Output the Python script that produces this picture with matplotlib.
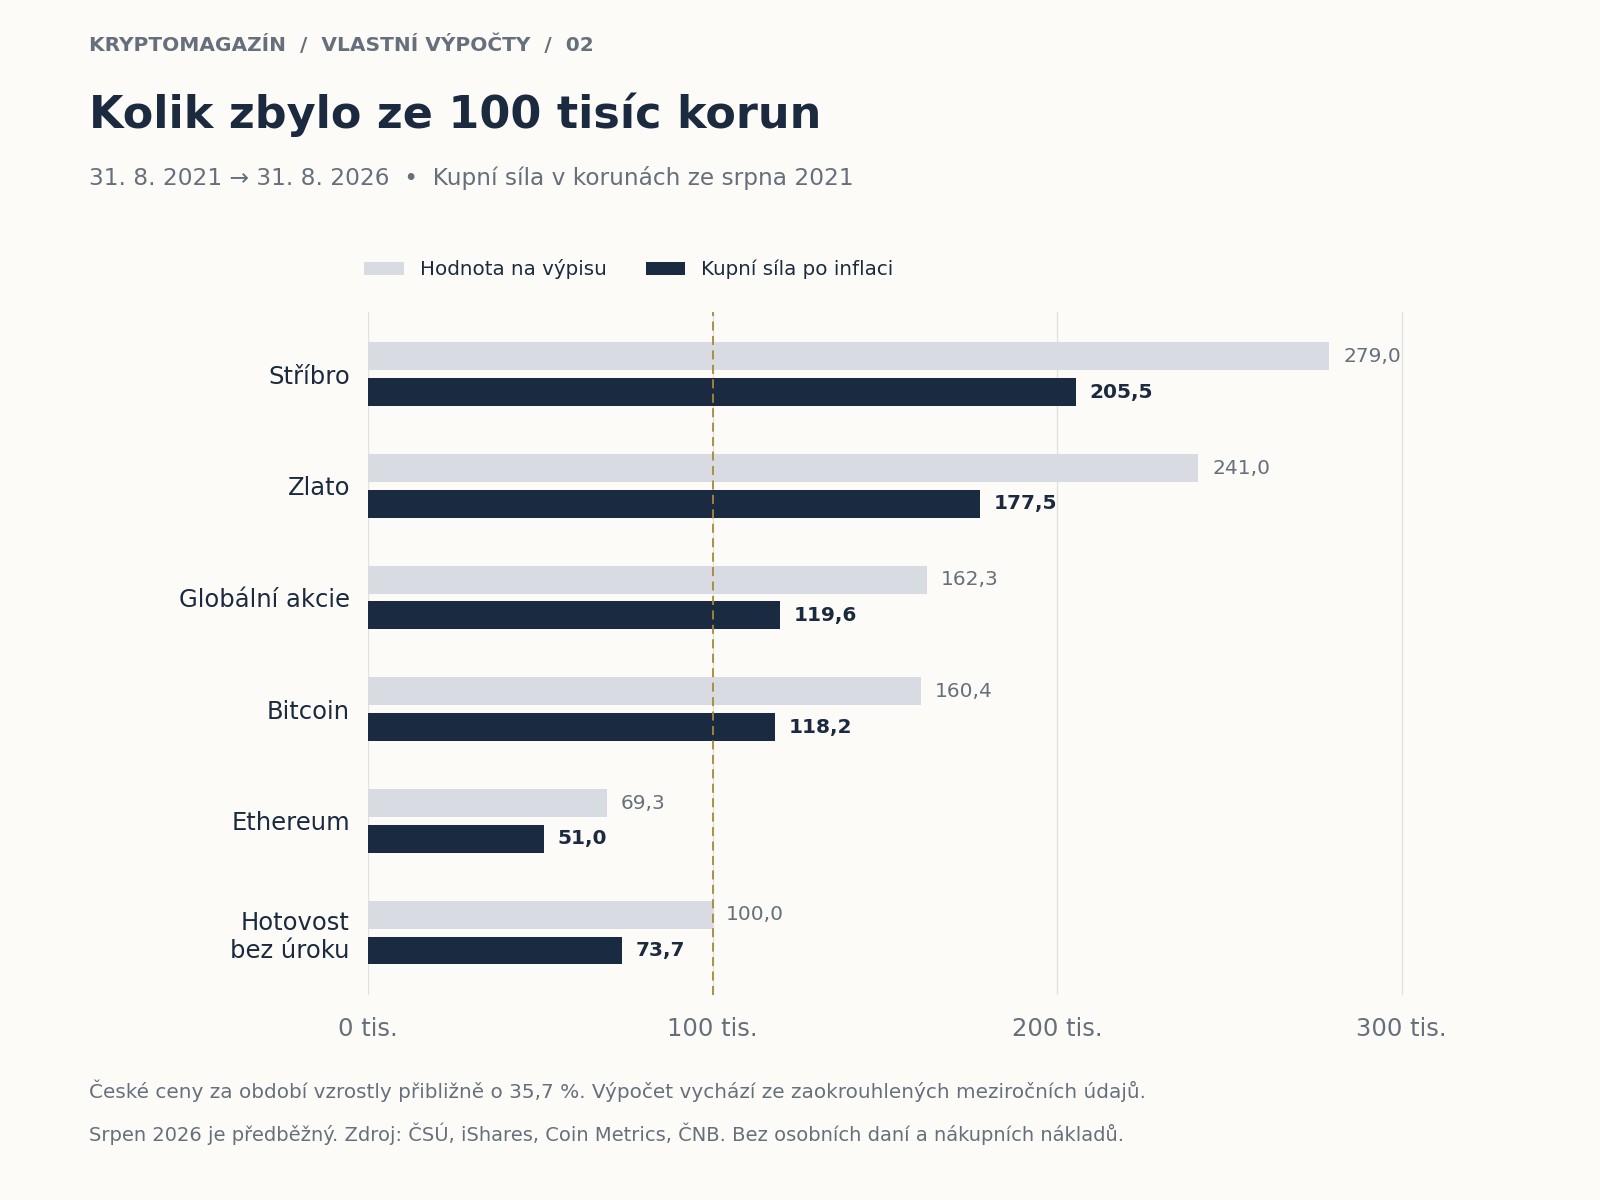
import numpy as np
import matplotlib.pyplot as plt

# ================================
# DATA
# ================================
categories = ["Stříbro", "Zlato", "Globální akcie", "Bitcoin", "Ethereum", "Hotovost\nbez úroku"]
nominal = [279.0, 241.0, 162.3, 160.4, 69.3, 100.0]
real = [205.5, 177.5, 119.6, 118.2, 51.0, 73.7]
xticks = [0, 100, 200, 300]
xtick_labels = ["0 tis.", "100 tis.", "200 tis.", "300 tis."]

# ================================
# STYLE
# ================================
BG = "#fcfbf7"
LIGHT = "#d8dce2"
DARK = "#1a2a40"
NAVY = "#1b2a3f"
GRAY = "#66707c"
GOLD = "#a8883a"

plt.rcParams['font.family'] = ['DejaVu Sans']

fig = plt.figure(figsize=(16, 12), dpi=100, facecolor=BG)
ax = fig.add_axes([0.230, 0.171, 0.6503, 0.569], facecolor=BG)

y = np.arange(len(categories))
h = 0.25
off = 0.16

ax.barh(y - off, nominal, height=h, color=LIGHT, zorder=2, label="Hodnota na výpisu")
ax.barh(y + off, real, height=h, color=DARK, zorder=2, label="Kupní síla po inflaci")

for yi, v in zip(y, nominal):
    ax.text(v + 4, yi - off, f"{v:.1f}".replace(".", ","), va="center", ha="left",
            fontsize=14.5, color=GRAY)
for yi, v in zip(y, real):
    ax.text(v + 4, yi + off, f"{v:.1f}".replace(".", ","), va="center", ha="left",
            fontsize=14.5, color=NAVY, fontweight="bold")

ax.axvline(100, color=GOLD, lw=1.3, ls=(0, (5, 3)), zorder=3)

ax.set_xlim(0, 302)
ax.set_ylim(5.557, -0.557)
ax.set_yticks(y)
ax.set_yticklabels(categories, fontsize=17.5, color=NAVY, linespacing=1.2)
ax.set_xticks(xticks)
ax.set_xticklabels(xtick_labels, fontsize=17.5, color=GRAY)
ax.tick_params(axis="x", length=0, pad=16)
ax.tick_params(axis="y", length=0, pad=13)
ax.grid(axis="x", color="#e2e2df", lw=1, zorder=0)
ax.set_axisbelow(True)
for s in ax.spines.values():
    s.set_visible(False)

leg = ax.legend(loc="lower left", bbox_to_anchor=(-0.011, 1.036), ncol=2, frameon=False,
                fontsize=14.3, handlelength=2.0, handleheight=0.7, columnspacing=1.95,
                handletextpad=0.8, borderaxespad=0)
for t in leg.get_texts():
    t.set_color(NAVY)

# ================================
# TEXTS
# ================================
fig.text(0.0555, 0.963, "KRYPTOMAGAZÍN  /  VLASTNÍ VÝPOČTY  /  02", fontsize=14.5,
         fontweight="bold", color=GRAY, va="center")
fig.text(0.0555, 0.904, "Kolik zbylo ze 100 tisíc korun", fontsize=32,
         fontweight="bold", color=NAVY, va="center")
fig.text(0.0555, 0.852, "31. 8. 2021 → 31. 8. 2026  •  Kupní síla v korunách ze srpna 2021",
         fontsize=16.75, color=GRAY, va="center")
fig.text(0.0555, 0.091, "České ceny za období vzrostly přibližně o 35,7 %. Výpočet vychází ze zaokrouhlených meziročních údajů.",
         fontsize=14.4, color=GRAY, va="center")
fig.text(0.0555, 0.055, "Srpen 2026 je předběžný. Zdroj: ČSÚ, iShares, Coin Metrics, ČNB. Bez osobních daní a nákupních nákladů.",
         fontsize=14.0, color=GRAY, va="center")

fig.savefig("out.png", dpi=100, facecolor=BG)
